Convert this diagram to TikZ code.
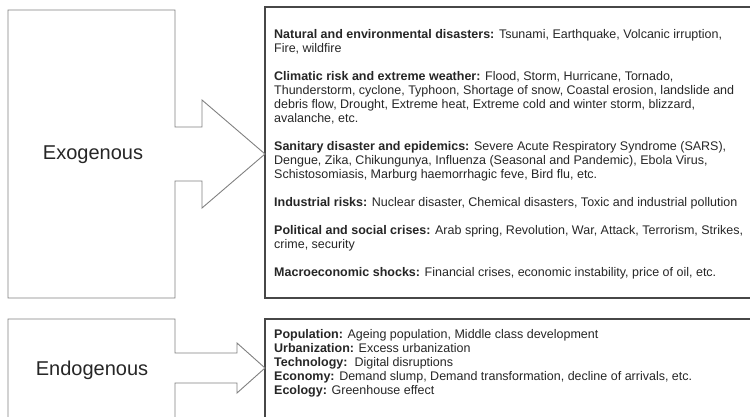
\documentclass[tikz,border=0pt]{standalone}
\usepackage{fontspec}
\setmainfont{Liberation Sans}
\begin{document}
\begin{tikzpicture}[x=1pt,y=-1pt,
  leftshape/.style={draw=black!50, line width=0.9pt, fill=white, line join=miter},
  rightbox/.style={draw=black!72, line width=1.3pt},
  txt/.style={font=\fontsize{12.5}{14}\selectfont, text=black!85, align=left, inner sep=0pt, anchor=north west},
  biglabel/.style={font=\fontsize{20}{22}\selectfont, text=black!85, inner sep=0pt}]
\useasboundingbox (0,0) rectangle (750,416);
\clip (0,0) rectangle (750,416);
% right boxes
\draw[rightbox] (265,7) rectangle (770,298);
\draw[rightbox] (265,319) rectangle (770,440);
% left shapes
\draw[leftshape] (8,10) -- (175,10) -- (175,127) -- (202,127) -- (202,100) -- (265,154)
  -- (202,208) -- (202,181) -- (175,181) -- (175,298) -- (8,298) -- cycle;
\draw[leftshape] (8,319) -- (175,319) -- (175,353) -- (237,353) -- (237,343) -- (265,368)
  -- (237,393) -- (237,383) -- (175,383) -- (175,440) -- (8,440) -- cycle;
% labels
\node[biglabel] (exo) at (93,155) {Exogenous};
\node[biglabel] (endo) at (92,370) {Endogenous};
\node[txt] (exotext) at (274,28.2) {\strut\textbf{Natural and environmental disasters:} Tsunami, Earthquake, Volcanic irruption,\\
Fire, wildfire\\[14pt]
\textbf{Climatic risk and extreme weather:} Flood, Storm, Hurricane, Tornado,\\
Thunderstorm, cyclone, Typhoon, Shortage of snow, Coastal erosion, landslide and\\
debris flow, Drought, Extreme heat, Extreme cold and winter storm, blizzard,\\
avalanche, etc.\\[14pt]
\textbf{Sanitary disaster and epidemics:} Severe Acute Respiratory Syndrome (SARS),\\
Dengue, Zika, Chikungunya, Influenza (Seasonal and Pandemic), Ebola Virus,\\
Schistosomiasis, Marburg haemorrhagic feve, Bird flu, etc.\\[14pt]
\textbf{Industrial risks:} Nuclear disaster, Chemical disasters, Toxic and industrial pollution\\[14pt]
\textbf{Political and social crises:} Arab spring, Revolution, War, Attack, Terrorism, Strikes,\\
crime, security\\[14pt]
\textbf{Macroeconomic shocks:} Financial crises, economic instability, price of oil, etc.};
\node[txt] (endotext) at (274,328.2) {\strut\textbf{Population:} Ageing population, Middle class development\\
\textbf{Urbanization:} Excess urbanization\\
\textbf{Technology:}\ \ Digital disruptions\\
\textbf{Economy:} Demand slump, Demand transformation, decline of arrivals, etc.\\
\textbf{Ecology:} Greenhouse effect};
\end{tikzpicture}
\end{document}
